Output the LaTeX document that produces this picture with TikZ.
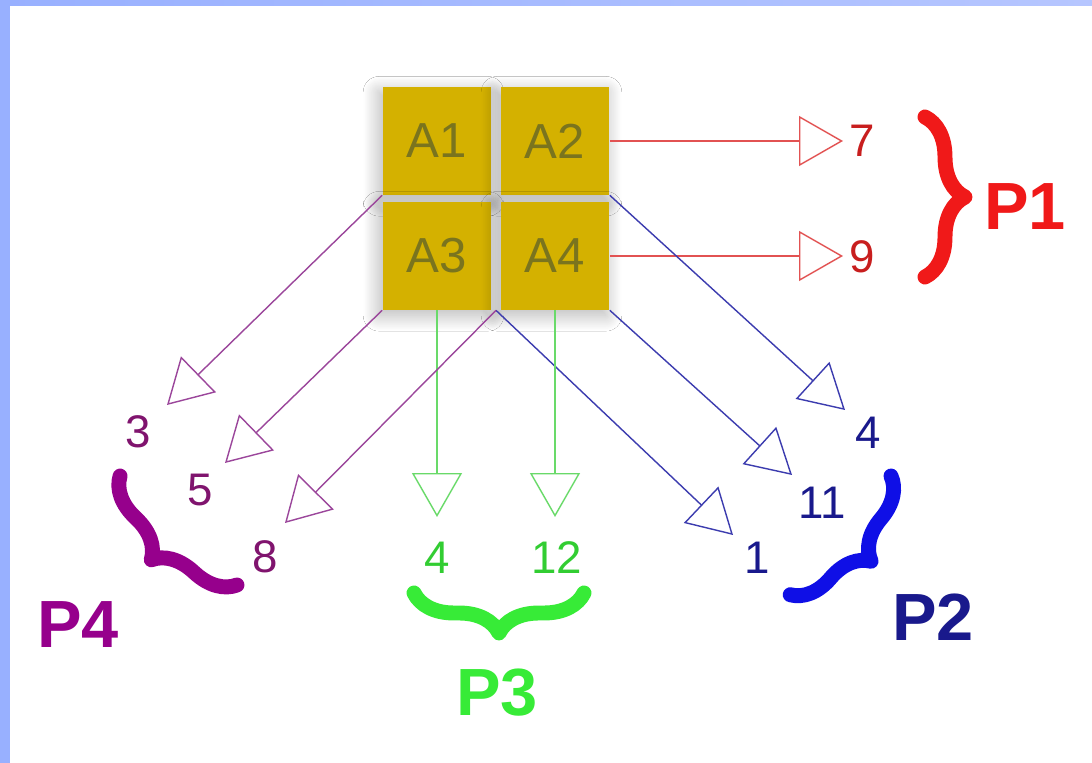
\documentclass[tikz,border=0pt]{standalone}
\usepackage{fontspec}
\setmainfont{Liberation Sans}
\usetikzlibrary{arrows.meta,calc,decorations.pathreplacing,shadows.blur}

\definecolor{bgblue}{RGB}{152,176,255}
\definecolor{bgbluer}{RGB}{182,198,255}
\definecolor{boxgold}{RGB}{212,177,0}
\definecolor{boxtext}{RGB}{122,116,30}
\definecolor{redline}{RGB}{226,82,82}
\definecolor{redtext}{RGB}{200,30,30}
\definecolor{redbrace}{RGB}{240,25,25}
\definecolor{blueline}{RGB}{60,60,175}
\definecolor{bluetext}{RGB}{25,25,140}
\definecolor{bluebrace}{RGB}{15,15,230}
\definecolor{purpline}{RGB}{155,70,155}
\definecolor{purptext}{RGB}{128,20,110}
\definecolor{purpbrace}{RGB}{150,0,140}
\definecolor{greenline}{RGB}{105,218,105}
\definecolor{greentext}{RGB}{50,205,50}
\definecolor{greenbrace}{RGB}{55,235,55}

\begin{document}
\begin{tikzpicture}[x=0.02cm, y=-0.02cm,
    cell/.style={fill=boxgold, minimum width=2.18cm, minimum height=2.16cm, inner sep=0pt,
        font=\fontsize{28}{32}\selectfont, text=boxtext,
        blur shadow={shadow xshift=-2pt, shadow yshift=-3pt, shadow blur radius=9pt,
            shadow blur steps=30, shadow blur extra rounding=0pt, shadow opacity=30}},
    hollow/.style={-{Triangle[open, length=0.88cm, width=1cm]}, line width=0.8pt},
    num/.style={font=\fontsize{26}{30}\selectfont, inner sep=0pt},
    plab/.style={font=\fontsize{38}{44}\selectfont\bfseries, inner sep=0pt},
    curly/.style={decorate, decoration={brace, amplitude=0.8cm}, line width=8.5pt, line cap=round, line join=round}]
    \useasboundingbox (0,0) rectangle (1092,763);

    % Slide background
    \shade[left color=bgblue, right color=bgbluer] (0,0) rectangle (1092,763);
    \fill[white] (10,6) rectangle (1092,763);

    % The 2x2 block of cells
    \node[cell] (A1) at (437,141) {A1};
    \node[cell] (A2) at (555,141) {A2};
    \node[cell] (A3) at (437,256) {A3};
    \node[cell] (A4) at (555,256) {A4};
    \coordinate (jb) at ($(A3.south east)!.5!(A4.south west)$);

    % Arrow tips
    \coordinate (r1) at (843,141);
    \coordinate (r2) at (843,256);
    \coordinate (b1) at (845,410);
    \coordinate (b2) at (792,475);
    \coordinate (b3) at (733,535);
    \coordinate (g1) at (437,517);
    \coordinate (g2) at (555,517);
    \coordinate (m1) at (167,405);
    \coordinate (m2) at (225,463);
    \coordinate (m3) at (285,523);

    % P1 (right)
    \draw[hollow, redline] (A2.east) -- (r1);
    \draw[hollow, redline] (A4.east) -- (r2);
    \node[num, text=redtext] (n7) at (862,141) {7};
    \node[num, text=redtext] (n9) at (862,257) {9};
    \draw[curly, redbrace] (925,117) -- (925,277);
    \node[plab, text=redbrace] (P1) at (1025,207) {P1};

    % P2 (lower right)
    \draw[hollow, blueline] (A2.south east) -- (b1);
    \draw[hollow, blueline] (A4.south east) -- (b2);
    \draw[hollow, blueline] (jb) -- (b3);
    \node[num, text=bluetext] (n4b) at (868,433) {4};
    \node[num, text=bluetext] (n11) at (822,503) {11};
    \node[num, text=bluetext] (n1) at (757,558) {1};
    \draw[curly, bluebrace] (891,476) -- (790,595);
    \node[plab, text=bluetext] (P2) at (933,617) {P2};

    % P3 (below)
    \draw[hollow, greenline] (A3.south) -- (g1);
    \draw[hollow, greenline] (A4.south) -- (g2);
    \node[num, text=greentext] (n4g) at (437,558) {4};
    \node[num, text=greentext] (n12) at (557,558) {12};
    \draw[curly, greenbrace] (584,593) -- (414,593);
    \node[plab, text=greenbrace] (P3) at (497,693) {P3};

    % P4 (lower left)
    \draw[hollow, purpline] (A1.south west) -- (m1);
    \draw[hollow, purpline] (A3.south west) -- (m2);
    \draw[hollow, purpline] (jb) -- (m3);
    \node[num, text=purptext] (n3) at (138,432) {3};
    \node[num, text=purptext] (n5) at (200,490) {5};
    \node[num, text=purptext] (n8) at (265,557) {8};
    \draw[curly, purpbrace] (237,585) -- (120,476);
    \node[plab, text=purpbrace] (P4) at (78,625) {P4};
\end{tikzpicture}
\end{document}
